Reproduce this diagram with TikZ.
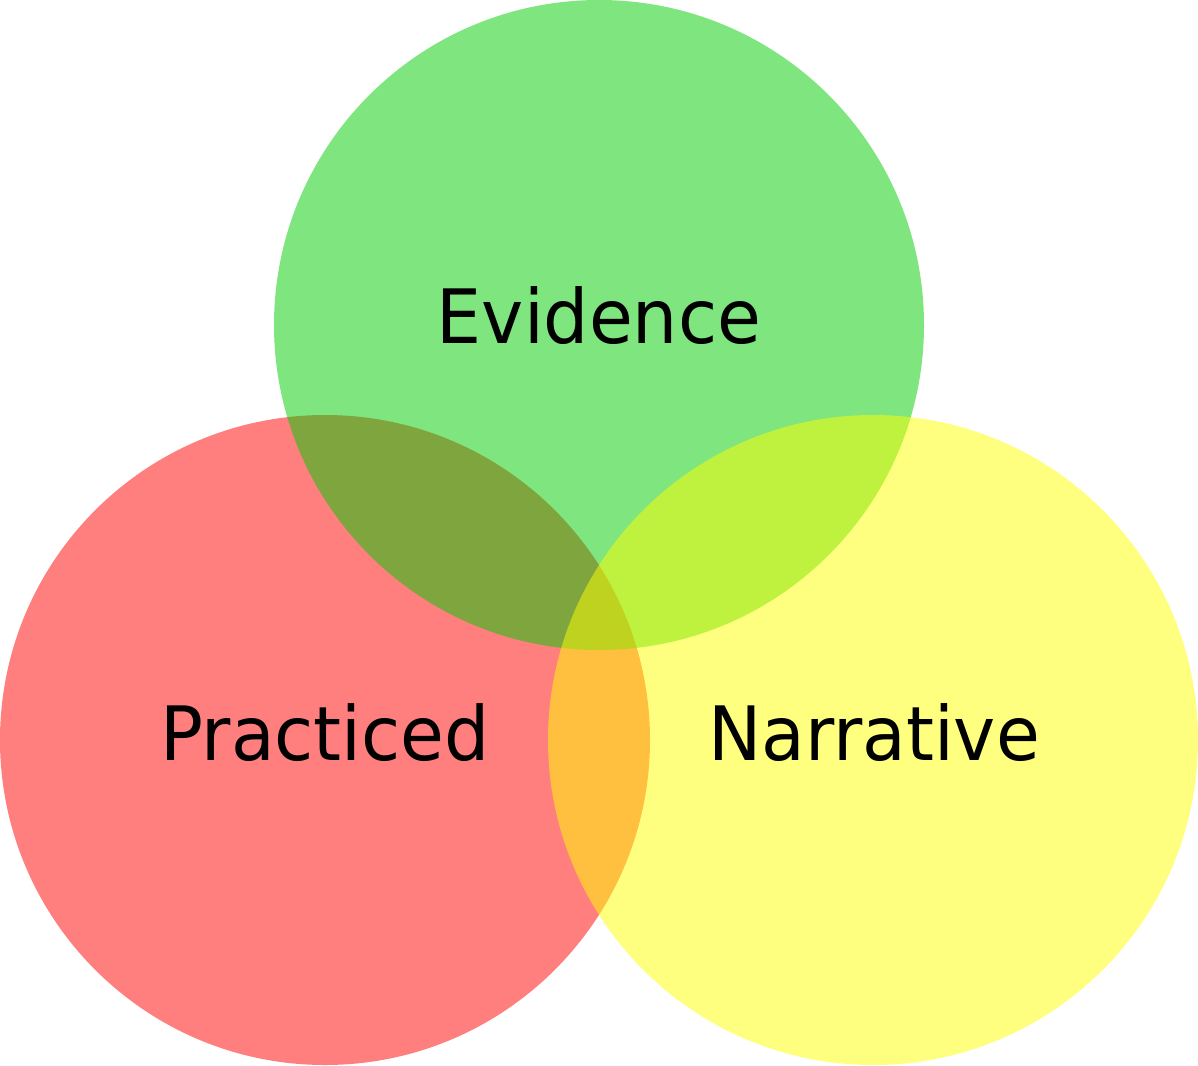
\documentclass[tikz,border=0pt]{standalone}
\usepackage{fontspec}
\setmainfont{DejaVu Sans}
\definecolor{cred}{RGB}{255,0,0}
\definecolor{cgreen}{RGB}{0,204,0}
\definecolor{cyellow}{RGB}{255,255,0}
\tikzset{
  venn/.style={fill opacity=0.5, draw=none},
  lbl/.style={anchor=base, text=black, font=\fontsize{75}{80}\selectfont, inner sep=0pt}
}
\begin{document}
\begin{tikzpicture}[x=1pt,y=-1pt]
\useasboundingbox (0,0) rectangle (1198,1065);
\fill[white] (0,0) rectangle (1198,1065);
\fill[venn, cred] (325,740) circle[radius=325];
\fill[venn, cgreen] (599,325) circle[radius=325];
\fill[venn, cyellow] (873,740) circle[radius=325];
\node[lbl] (ev) at (599,343) {\scalebox{0.95}[1]{Evidence}};
\node[lbl] (pr) at (325,760) {\scalebox{0.95}[1]{Practiced}};
\node[lbl] (na) at (874,760) {\scalebox{0.95}[1]{Narrative}};
\end{tikzpicture}
\end{document}
